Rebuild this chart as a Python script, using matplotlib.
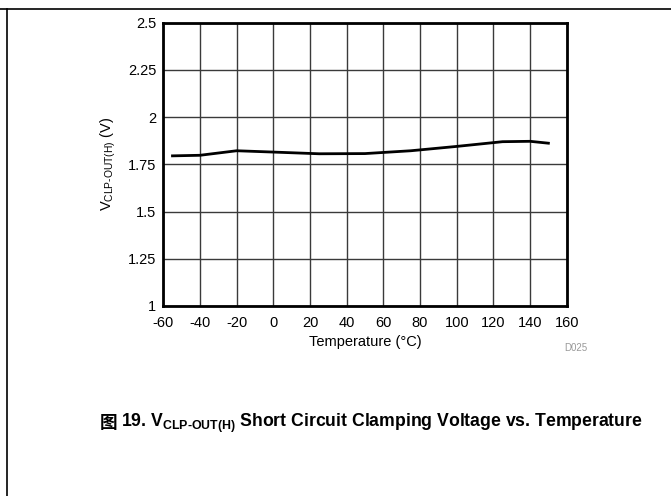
import matplotlib
matplotlib.use("Agg")
import matplotlib.pyplot as plt
from matplotlib.lines import Line2D

plt.rcParams['font.family'] = ['Liberation Sans', 'Noto Sans CJK SC', 'DejaVu Sans']
plt.rcParams['mathtext.fontset'] = 'custom'
plt.rcParams['mathtext.rm'] = 'Liberation Sans'
plt.rcParams['mathtext.bf'] = 'Liberation Sans:bold'
plt.rcParams['axes.unicode_minus'] = False

# data
temps = [-55, -40, -20, 0, 25, 50, 75, 100, 125, 140, 150]
vclp = [1.795, 1.798, 1.822, 1.815, 1.806, 1.807, 1.822, 1.845, 1.870, 1.872, 1.862]
xticks = [-60, -40, -20, 0, 20, 40, 60, 80, 100, 120, 140, 160]
yticks = [1, 1.25, 1.5, 1.75, 2, 2.25, 2.5]
ytick_labels = ['1', '1.25', '1.5', '1.75', '2', '2.25', '2.5']

fig = plt.figure(figsize=(6.71, 4.96), dpi=100)
ax = fig.add_axes([0.2434, 0.3831, 0.6012, 0.5711])

ax.plot(temps, vclp, color='black', lw=2.0, zorder=3)
ax.set_xlim(-60, 160)
ax.set_ylim(1, 2.5)
ax.set_xticks(xticks)
ax.set_yticks(yticks)
ax.set_yticklabels(ytick_labels)
ax.grid(True, color='#3a3a3a', lw=1.0)
ax.tick_params(length=0, labelsize=10.5)
ax.tick_params(axis='x', pad=7)
ax.tick_params(axis='y', pad=5)
for s in ax.spines.values():
    s.set_linewidth(2.0)

ax.set_xlabel('Temperature (°C)', fontsize=10.5, labelpad=4)
ax.set_ylabel('V$_{\\mathregular{CLP\u2010OUT(H)}}$ (V)', fontsize=10.5, labelpad=7)

fig.text(0.876, 0.298, 'D025', fontsize=7, color='#999999', ha='right', va='center')

# caption
fig.text(0.149, 0.147, '图', fontsize=12.7, fontweight='bold',
         family='Noto Sans CJK SC', va='center', ha='left')
fig.text(0.181, 0.147,
         '19. V$_{\\mathbf{CLP\u2010OUT(H)}}$ Short Circuit Clamping Voltage vs. Temperature',
         fontsize=12.7, fontweight='bold', va='center', ha='left')

# page frame lines
fig.add_artist(Line2D([0, 1], [1 - 9 / 496, 1 - 9 / 496], color='black', lw=1.2,
                      transform=fig.transFigure))
fig.add_artist(Line2D([7 / 671, 7 / 671], [0, 1 - 9 / 496], color='black', lw=1.2,
                      transform=fig.transFigure))

fig.savefig('out.png', dpi=100)
